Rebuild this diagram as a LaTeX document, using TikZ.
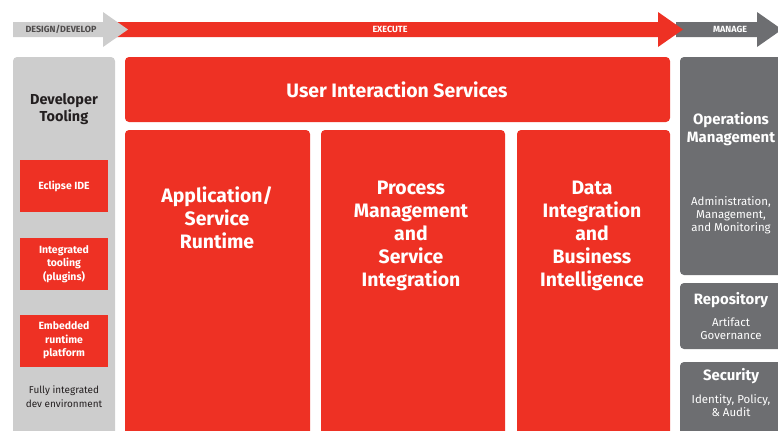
\documentclass[tikz,border=0pt]{standalone}
\usepackage{fontspec}
\setmainfont{Fira Sans}
\usetikzlibrary{positioning}
\definecolor{rhred}{HTML}{EE3124}
\definecolor{rhgray}{HTML}{6D6E71}
\definecolor{rhlight}{HTML}{CDCDCD}
\definecolor{rhtext}{HTML}{231F20}

\tikzset{
  redpanel/.style={fill=rhred, rounded corners=4bp},
  graypanel/.style={fill=rhgray, rounded corners=4bp},
  toolbox/.style={fill=rhred, text=white, align=center, anchor=center,
    minimum width=88bp, minimum height=52bp, inner sep=0pt,
    font=\fontsize{10.5}{13.5}\selectfont\bfseries},
  phase/.style={font=\fontsize{9}{10}\selectfont\bfseries, inner sep=0pt},
  bigtext/.style={text=white, align=center, font=\fontsize{19.5}{23}\selectfont\bfseries},
  headtext/.style={text=white, align=center, font=\fontsize{15}{17.5}\selectfont\bfseries},
  smalltext/.style={text=white, align=center, font=\fontsize{11.5}{13}\selectfont},
}

\begin{document}
\begin{tikzpicture}[x=1bp, y=-1bp]
  \useasboundingbox (0,0) rectangle (778,430);

  % phase arrows
  \fill[rhgray] (676,22) -- (757,22) -- (757,12) -- (782,29.5) -- (757,47) -- (757,37) -- (676,37) -- cycle;
  \fill[rhred] (112,22) -- (658,22) -- (658,12) -- (683,29.5) -- (658,47) -- (658,37) -- (112,37) -- cycle;
  \fill[rhlight] (13,22) -- (103,22) -- (103,12) -- (128,29.5) -- (103,47) -- (103,37) -- (13,37) -- cycle;
  \node[phase, text=rhtext!80] (design) at (61,29.5) {DESIGN/DEVELOP};
  \node[phase, text=white] (execute) at (390,29.5) {EXECUTE};
  \node[phase, text=white] (manage) at (730,29.5) {MANAGE};

  % developer tooling
  \fill[rhlight, rounded corners=4bp] (13,57) rectangle (115,440);
  \node[align=center, text=rhtext, font=\fontsize{14.5}{17}\selectfont\bfseries] (tooling) at (64,109) {Developer\\Tooling};
  \node[toolbox] (eclipse) at (64,186) {Eclipse IDE};
  \node[toolbox] (plugins) at (64,264) {Integrated\\tooling\\(plugins)};
  \node[toolbox] (embedded) at (64,340.5) {Embedded\\runtime\\platform};
  \node[align=center, text=rhtext, font=\fontsize{10}{14}\selectfont] (devenv) at (64,397) {Fully integrated\\dev environment};

  % execute
  \fill[redpanel] (125,57) rectangle (670,122);
  \node[bigtext] (uis) at (397,90) {User Interaction Services};
  \fill[redpanel] (125,130) rectangle (310,440);
  \fill[redpanel] (321,130) rectangle (505,440);
  \fill[redpanel] (517,130) rectangle (670,440);
  \node[bigtext] (runtime) at (217,218) {Application/\\Service\\Runtime};
  \node[bigtext] (process) at (411,236) {Process\\Management\\and\\Service\\Integration};
  \node[bigtext] (data) at (592,236) {Data\\Integration\\and\\Business\\Intelligence};

  % manage
  \fill[graypanel] (680,57) rectangle (790,275);
  \fill[graypanel] (680,283) rectangle (790,349);
  \fill[graypanel] (680,362) rectangle (790,440);
  \node[headtext] (ops) at (731,129) {Operations\\Management};
  \node[smalltext] (admin) at (731,215) {Administration,\\Management,\\and Monitoring};
  \node[headtext] (repo) at (731,300) {Repository};
  \node[smalltext] (artifact) at (731,328.5) {Artifact\\Governance};
  \node[headtext] (security) at (731,376) {Security};
  \node[smalltext] (identity) at (731,405.5) {Identity, Policy,\\\& Audit};
\end{tikzpicture}
\end{document}
